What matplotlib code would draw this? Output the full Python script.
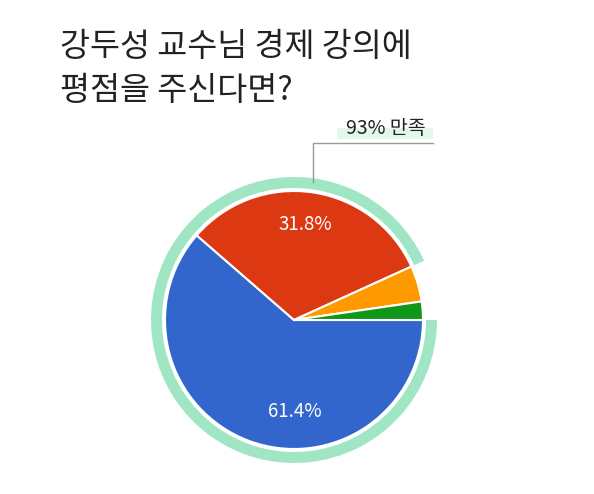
import numpy as np
import matplotlib.pyplot as plt
from matplotlib.patches import Wedge, Rectangle

plt.rcParams['font.family'] = ['Noto Sans CJK KR', 'DejaVu Sans']

# data
title = '강두성 교수님 경제 강의에\n평점을 주신다면?'
shares = [61.4, 31.8, 4.5, 2.3]
colors = ['#3366CC', '#DC3912', '#FF9900', '#109618']
pct_labels = ['61.4%', '31.8%']
satisfied_label = '93% 만족'

W, H = 594, 494
fig = plt.figure(figsize=(W / 100, H / 100), dpi=100)
ax = fig.add_axes([0, 0, 1, 1])

cx, cy = 294, H - 320
r = 129

ax.pie(shares, colors=colors, center=(cx, cy), radius=r, startangle=0,
       counterclock=False, frame=True,
       wedgeprops=dict(edgecolor='white', linewidth=1.5))

# outer ring for the "satisfied" share (blue + red)
sat = (shares[0] + shares[1]) / 100
ring = Wedge((cx, cy), 143, 360 - 360 * sat, 360, width=11,
             facecolor='#A0E6C4', edgecolor='none')
ax.add_patch(ring)

# percentage labels inside wedges
ax.text(305, H - 224, pct_labels[1], color='white', fontsize=13.5,
        ha='center', va='center')
ax.text(294.5, H - 411, pct_labels[0], color='white', fontsize=13.5,
        ha='center', va='center')

# callout
ax.plot([313, 313, 433], [H - 182, H - 143, H - 143], color='#999999', lw=1)
ax.add_patch(Rectangle((337, H - 139), 96, 11, facecolor='#E3F7EC',
                       edgecolor='none'))
ax.text(386, H - 128, satisfied_label, color='#222222', fontsize=14,
        ha='center', va='center')

# title
ax.text(60, H - 31, title, fontsize=23.5, color='#222222', ha='left', va='top',
        linespacing=1.5)

ax.set_xlim(0, W)
ax.set_ylim(0, H)
ax.set_aspect('auto')
ax.axis('off')

fig.savefig('out.png', dpi=100, facecolor='white')
